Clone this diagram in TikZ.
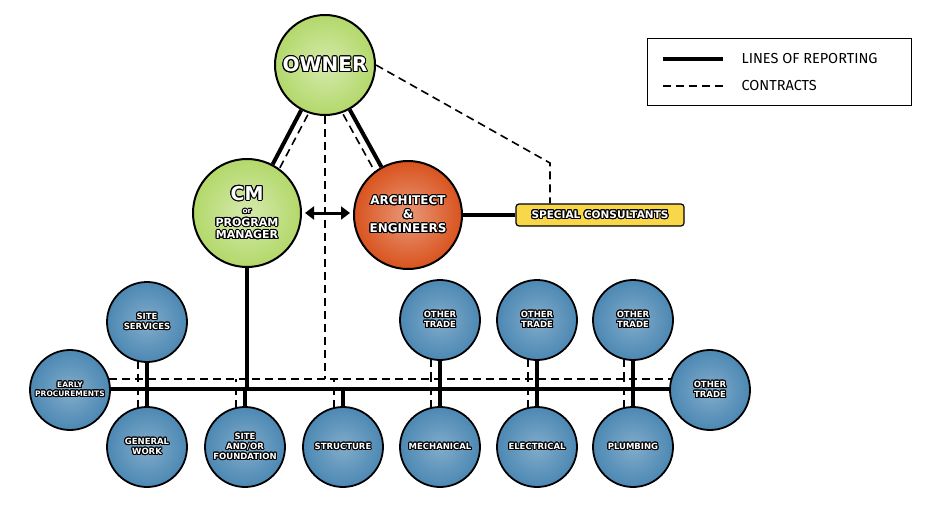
\documentclass[tikz,border=0pt]{standalone}
\usepackage{fontspec}
\setmainfont{Fira Sans}
\newfontfamily\lblfont{DejaVu Sans}
\usepackage[copies]{contour}
\contourlength{1pt}
\contournumber{16}
\usepackage{tikz}
\usetikzlibrary{arrows.meta, calc, backgrounds}
\definecolor{ownergreen}{HTML}{B3D86A}
\definecolor{archred}{HTML}{D9531E}
\definecolor{tradeblue}{HTML}{4C88B3}
\definecolor{consyellow}{HTML}{F8D84A}
\tikzstyle{bigball} = [circle, draw = black, line width = 2pt,
  minimum size = 108, inner sep = 0, text centered, align = center,
  font = \lblfont\bfseries]
\tikzstyle{trade} = [circle, draw = black, line width = 1.8pt,
  minimum size = 80, inner sep = 0, align = center,
  inner color = tradeblue!70!white, outer color = tradeblue,
  font = \lblfont\bfseries\fontsize{8.5}{10}\selectfont]
\tikzstyle{report} = [line width = 4pt]
\tikzstyle{contract} = [line width = 1.6pt, dash pattern = on 8pt off 5pt]
\newcommand{\olbl}[1]{\contour{black}{\textcolor{white}{#1}}}

\begin{document}
\begin{tikzpicture}[x = 1pt, y = -1pt]
  \useasboundingbox (0, 0) rectangle (946, 519);

  % top of the chart
  \node [bigball, minimum size = 100, inner color = ownergreen!55!white,
    outer color = ownergreen, font = \lblfont\bfseries\fontsize{20}{22}\selectfont]
    (owner) at (325, 65) {\olbl{OWNER}};
  \node [bigball, inner color = ownergreen!55!white, outer color = ownergreen,
    font = \lblfont\bfseries\fontsize{11}{12.5}\selectfont]
    (cm) at (247, 213) {{\fontsize{19}{19}\selectfont\olbl{CM}}\\[1pt]
      {\fontsize{7.5}{7.5}\selectfont\olbl{or}}\\ \olbl{PROGRAM}\\ \olbl{MANAGER}};
  \node [bigball, inner color = archred!60!white, outer color = archred,
    font = \lblfont\bfseries\fontsize{12}{14}\selectfont]
    (arch) at (408, 215) {\olbl{ARCHITECT}\\ \olbl{\&}\\ \olbl{ENGINEERS}};
  \node [rectangle, rounded corners = 3pt, draw = black, line width = 1.2pt,
    fill = consyellow, minimum width = 168, minimum height = 22, inner sep = 2pt,
    font = \lblfont\bfseries\fontsize{10.5}{11}\selectfont]
    (cons) at (600, 215) {\olbl{SPECIAL CONSULTANTS}};

  % trades
  \node [trade, font = \lblfont\bfseries\fontsize{7.5}{9}\selectfont] (early)
    at (70, 390) {\olbl{EARLY}\\ \olbl{PROCUREMENTS}};
  \node [trade] (services) at (147, 322) {\olbl{SITE}\\ \olbl{SERVICES}};
  \node [trade] (general) at (147, 447) {\olbl{GENERAL}\\ \olbl{WORK}};
  \node [trade] (site) at (245, 447) {\olbl{SITE}\\ \olbl{AND/OR}\\
    \olbl{FOUNDATION}};
  \node [trade] (structure) at (343, 447) {\olbl{STRUCTURE}};
  \node [trade] (mech) at (440, 447) {\olbl{MECHANICAL}};
  \node [trade] (elec) at (537, 447) {\olbl{ELECTRICAL}};
  \node [trade] (plumb) at (633, 447) {\olbl{PLUMBING}};
  \node [trade] (other-a) at (440, 320) {\olbl{OTHER}\\ \olbl{TRADE}};
  \node [trade] (other-b) at (537, 320) {\olbl{OTHER}\\ \olbl{TRADE}};
  \node [trade] (other-c) at (633, 320) {\olbl{OTHER}\\ \olbl{TRADE}};
  \node [trade] (other-d) at (710, 390) {\olbl{OTHER}\\ \olbl{TRADE}};

  % legend
  \node [draw = black, line width = 1pt, minimum width = 264,
    minimum height = 67, inner sep = 0] (legend) at (779, 72) {};
  \coordinate (rep-a) at (663, 59);
  \coordinate (rep-b) at (723, 59);
  \coordinate (con-a) at (663, 86);
  \coordinate (con-b) at (723, 86);
  \draw [report] (rep-a) -- (rep-b);
  \draw [contract] (con-a) -- (con-b);
  \node [anchor = west, font = \fontsize{14.5}{15}\selectfont] (rep-text)
    at (738, 59) {LINES OF REPORTING};
  \node [anchor = west, font = \fontsize{14.5}{15}\selectfont] (con-text)
    at (738, 86) {CONTRACTS};

  \begin{scope}[on background layer]
    % bus
    \coordinate (bus-l) at (70, 389);
    \coordinate (bus-r) at (710, 389);
    \coordinate (dbus-l) at (70, 379);
    \coordinate (dbus-r) at (710, 379);
    \coordinate (cm-bus) at (247, 389);
    \coordinate (owner-bus) at (325, 379);
    \coordinate (cons-bend) at (550, 163);
    \draw [report] (bus-l) -- (bus-r);
    \draw [contract] (dbus-l) -- (dbus-r);
    \draw [report] (cm) -- (cm-bus);
    \draw [contract] (owner) -- (owner-bus);
    \draw [report] (owner) -- (cm);
    \draw [report] (owner) -- (arch);
    \draw [contract] ($(owner)!8pt!90:(cm)$) -- ($(cm)!8pt!-90:(owner)$);
    \draw [contract] ($(owner)!8pt!-90:(arch)$) -- ($(arch)!8pt!90:(owner)$);
    \draw [contract] (owner.east) -- (cons-bend) -- (cons-bend |- cons.north);
    \draw [report] (arch) -- (cons);
    % trade connectors
    \foreach \t in {services, general, site, structure, mech, elec, plumb,
      other-a, other-b, other-c} {
      \draw [report] (\t) -- (\t |- bus-l);
      \draw [contract] ([xshift = -9]\t.center) -- ([xshift = -9]\t.center |- dbus-l);
    }
  \end{scope}
  \draw [{Triangle[length = 9pt, width = 13pt]}-{Triangle[length = 9pt, width = 13pt]},
    line width = 3pt] (cm.east) ++(3, 0) coordinate (arr-a)
    (arch.west) ++(-3, -2) coordinate (arr-b) (arr-a) -- (arr-a -| arr-b);
\end{tikzpicture}
\end{document}
